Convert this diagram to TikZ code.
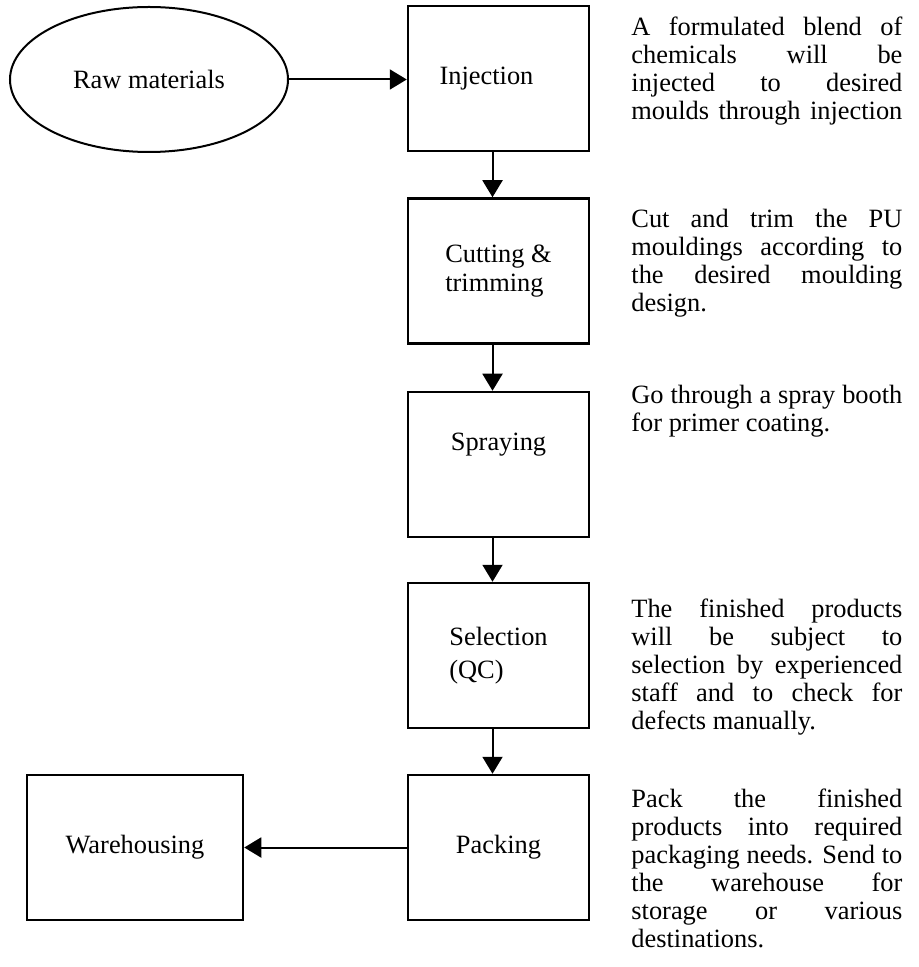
\documentclass[tikz,border=0pt]{standalone}
\usepackage{fontspec}
\setmainfont{Liberation Serif}
\usetikzlibrary{shapes.geometric,arrows.meta}
\newlength\colw
\setlength\colw{135.5pt}
\newcommand\jlin[1]{\hbox to\colw{#1}}
\newcommand\lastlin[1]{\hbox{#1}}
\begin{document}
\begin{tikzpicture}[x=0.5pt,y=-0.5pt,
  every node/.style={font=\fontsize{13.2pt}{14pt}\selectfont},
  stepbox/.style={draw, line width=1.25pt, minimum width=90.5pt, minimum height=72.5pt, inner sep=0pt},
  oval/.style={draw, ellipse, line width=1pt, minimum width=139pt, minimum height=72.5pt, inner sep=0pt},
  arr/.style={line width=1pt, -{Triangle[length=8.5pt,width=10pt]}},
  desc/.style={inner sep=0pt, anchor=base west}]
\useasboundingbox (0,0) rectangle (918,967);

\node[oval] (raw) at (149,79.5) {Raw materials};
\node[stepbox] (inj) at (498.5,78.5) {Injection\hspace*{12pt}};
\node[stepbox, align=left] (cut) at (498.5,271) {Cutting \&\\[0.5pt]trimming};
\node[stepbox, text depth=23pt] (spr) at (498.5,464.5) {Spraying};
\node[stepbox, align=left] (sel) at (498.5,655.5) {Selection\\[2.5pt](QC)};
\node[stepbox] (pack) at (498.5,847.5) {Packing};
\node[stepbox, minimum width=108pt] (ware) at (135,847.5) {Warehousing};

\draw[arr] (raw.east) -- (inj.west |- raw.east);
\draw[arr] ([xshift=-3pt]inj.south) -- ([xshift=-3pt]cut.north);
\draw[arr] ([xshift=-3pt]cut.south) -- ([xshift=-3pt]spr.north);
\draw[arr] ([xshift=-3pt]spr.south) -- ([xshift=-3pt]sel.north);
\draw[arr] ([xshift=-3pt]sel.south) -- ([xshift=-3pt]pack.north);
\draw[arr] (pack.west) -- (ware.east);

\node[desc] (d1) at (631,36) {\vtop{\baselineskip=14pt
  \jlin{A formulated blend of}
  \jlin{chemicals will be}
  \jlin{injected to desired}
  \jlin{moulds through injection}}};
\node[desc] (d2) at (631,228) {\vtop{\baselineskip=14pt
  \jlin{Cut and trim the PU}
  \jlin{mouldings according to}
  \jlin{the desired moulding}
  \lastlin{design.}}};
\node[desc] (d3) at (631,403) {\vtop{\baselineskip=14pt
  \jlin{Go through a spray booth}
  \lastlin{for primer coating.}}};
\node[desc] (d4) at (631,617) {\vtop{\baselineskip=14pt
  \jlin{The finished products}
  \jlin{will be subject to}
  \jlin{selection by experienced}
  \jlin{staff and to check for}
  \lastlin{defects manually.}}};
\node[desc] (d5) at (631,807) {\vtop{\baselineskip=14pt
  \jlin{Pack the finished}
  \jlin{products into required}
  \jlin{packaging needs. Send to}
  \jlin{the warehouse for}
  \jlin{storage or various}
  \lastlin{destinations.}}};
\end{tikzpicture}
\end{document}
